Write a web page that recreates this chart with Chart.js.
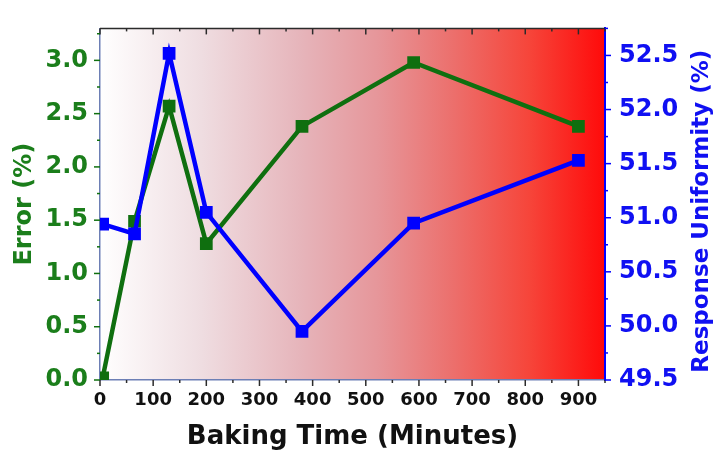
<!doctype html>
<html lang="en">
<head>
  <meta charset="utf-8">
  <title>Baking Time vs Error and Response Uniformity</title>
  <script src="https://cdn.jsdelivr.net/npm/chart.js"></script>
  <style>
    html, body { margin: 0; padding: 0; background: #fff; }
    #chartBox { width: 719px; height: 455px; }
  </style>
</head>
<body>
<div id="chartBox"><canvas id="myChart" width="719" height="455"></canvas></div>

<script>
  // baking time in minutes
  var bakeTime = [5, 65, 130, 200, 380, 590, 900];
  // left axis, error (%)
  var errorPct = [0.02, 1.49, 2.57, 1.28, 2.38, 2.98, 2.38];
  // right axis, response uniformity (%)
  var uniformityPct = [50.94, 50.85, 52.52, 51.05, 49.95, 50.95, 51.53];

  // tick positions (labels only on the major ones)
  var timeTicks = [0, 50, 100, 150, 200, 250, 300, 350, 400, 450, 500, 550, 600, 650, 700, 750, 800, 850, 900, 950];
  var errorTicks = [0, 0.25, 0.5, 0.75, 1.0, 1.25, 1.5, 1.75, 2.0, 2.25, 2.5, 2.75, 3.0, 3.25];
  var uniformityTicks = [49.5, 49.75, 50.0, 50.25, 50.5, 50.75, 51.0, 51.25, 51.5, 51.75, 52.0, 52.25, 52.5, 52.75];

  var GREEN = '#0f6f0f';
  var GREEN_TEXT = '#1b7e1b';
  var BLUE = '#0000ff';
  var BLUE_TEXT = '#1010f2';
  var FONT = '"DejaVu Sans", sans-serif';

  function halfStep(v) {
    return Math.abs(v * 2 - Math.round(v * 2)) < 1e-6;
  }

  // white -> red wash behind the plot
  var plotBackground = {
    id: 'plotBackground',
    beforeDraw: function (chart) {
      var a = chart.chartArea, ctx = chart.ctx;
      var g = ctx.createLinearGradient(a.left, 0, a.right, 0);
      g.addColorStop(0, '#ffffff');
      g.addColorStop(0.2, '#efdde1');
      g.addColorStop(0.4, '#e6b4ba');
      g.addColorStop(0.55, '#e6969a');
      g.addColorStop(0.7, '#ec6f6c');
      g.addColorStop(0.85, '#f6453a');
      g.addColorStop(1, '#ff0a0a');
      ctx.save();
      ctx.fillStyle = g;
      ctx.fillRect(a.left, a.top, a.right - a.left, a.bottom - a.top);
      ctx.restore();
    }
  };

  // tick marks (long for labelled, short for minor), top frame and right title
  var axisExtras = {
    id: 'axisExtras',
    afterDraw: function (chart) {
      var ctx = chart.ctx, a = chart.chartArea;
      var xs = chart.scales.x, yl = chart.scales.y, yr = chart.scales.y2;

      function seg(x1, y1, x2, y2, color) {
        ctx.strokeStyle = color;
        ctx.beginPath();
        ctx.moveTo(x1, y1);
        ctx.lineTo(x2, y2);
        ctx.stroke();
      }

      ctx.save();
      ctx.lineWidth = 1.5;
      seg(a.left, a.top, a.right, a.top, '#2b2b2b');

      xs.ticks.forEach(function (t) {
        var px = xs.getPixelForValue(t.value);
        var len = t.label ? 6 : 3;
        seg(px, a.bottom, px, a.bottom + len, '#2b2b2b');
        seg(px, a.top, px, a.top + len, '#2b2b2b');
      });
      yl.ticks.forEach(function (t) {
        var py = yl.getPixelForValue(t.value);
        seg(a.left, py, a.left - (t.label ? 6 : 3), py, GREEN);
      });
      yr.ticks.forEach(function (t) {
        var py = yr.getPixelForValue(t.value);
        seg(a.right, py, a.right + (t.label ? 6 : 3), py, BLUE);
      });

      // right axis title reads bottom-to-top like the left one
      ctx.translate(702, (a.top + a.bottom) / 2 + 7);
      ctx.rotate(-Math.PI / 2);
      ctx.fillStyle = BLUE_TEXT;
      ctx.font = 'bold 23px ' + FONT;
      ctx.textAlign = 'center';
      ctx.textBaseline = 'middle';
      ctx.fillText('Response Uniformity (%)', 0, 0);
      ctx.restore();
    }
  };

  var data = {
    datasets: [{
      label: 'Response Uniformity (%)',
      data: bakeTime.map(function (t, i) { return { x: t, y: uniformityPct[i] }; }),
      yAxisID: 'y2',
      borderColor: BLUE,
      backgroundColor: BLUE,
      borderWidth: 4.5,
      pointStyle: 'rect',
      pointRadius: 9,
      pointBorderWidth: 0,
      order: 1
    }, {
      label: 'Error (%)',
      data: bakeTime.map(function (t, i) { return { x: t, y: errorPct[i] }; }),
      yAxisID: 'y',
      borderColor: GREEN,
      backgroundColor: GREEN,
      borderWidth: 4.5,
      pointStyle: 'rect',
      pointRadius: 9,
      pointBorderWidth: 0,
      order: 2
    }]
  };

  var config = {
    type: 'line',
    data: data,
    plugins: [plotBackground, axisExtras],
    options: {
      responsive: false,
      animation: false,
      devicePixelRatio: 1,
      layout: { padding: { top: 10, left: 0, right: 0, bottom: 0 } },
      plugins: {
        legend: { display: false },
        tooltip: { enabled: false }
      },
      scales: {
        x: {
          type: 'linear',
          min: 0,
          max: 950,
          afterBuildTicks: function (s) { s.ticks = timeTicks.map(function (v) { return { value: v }; }); },
          afterFit: function (s) { s.height = 75; },
          grid: { display: false, drawTicks: false },
          border: { display: true, color: '#6d7fb5', width: 1.5 },
          ticks: {
            padding: 10,
            color: '#111',
            maxRotation: 0,
            autoSkip: false,
            font: { family: FONT, weight: 'bold', size: 18 },
            callback: function (v) { return (v % 100 === 0 && v <= 900) ? String(v) : ''; }
          },
          title: {
            display: true,
            text: 'Baking Time (Minutes)',
            color: '#111',
            font: { family: FONT, weight: 'bold', size: 26 },
            padding: { top: 0, bottom: 2 }
          }
        },
        y: {
          type: 'linear',
          position: 'left',
          min: 0,
          max: 3.3,
          afterBuildTicks: function (s) { s.ticks = errorTicks.map(function (v) { return { value: v }; }); },
          afterFit: function (s) { s.width = 100; },
          grid: { display: false, drawTicks: false },
          border: { display: true, color: '#6d7fb5', width: 1.5 },
          ticks: {
            padding: 12,
            color: GREEN_TEXT,
            autoSkip: false,
            font: { family: FONT, weight: 'bold', size: 24 },
            callback: function (v) { return halfStep(v) ? v.toFixed(1) : ''; }
          },
          title: {
            display: true,
            text: 'Error (%)',
            color: GREEN_TEXT,
            font: { family: FONT, weight: 'bold', size: 24 },
            padding: { top: 10, bottom: 0 }
          }
        },
        y2: {
          type: 'linear',
          position: 'right',
          min: 49.5,
          max: 52.75,
          afterBuildTicks: function (s) { s.ticks = uniformityTicks.map(function (v) { return { value: v }; }); },
          afterFit: function (s) { s.width = 114; },
          grid: { display: false, drawTicks: false },
          border: { display: true, color: BLUE, width: 2 },
          ticks: {
            padding: 14,
            color: BLUE_TEXT,
            autoSkip: false,
            font: { family: FONT, weight: 'bold', size: 24 },
            callback: function (v) { return halfStep(v) ? v.toFixed(1) : ''; }
          }
        }
      }
    }
  };

  var myChart = new Chart(document.getElementById('myChart'), config);
</script>
</body>
</html>
